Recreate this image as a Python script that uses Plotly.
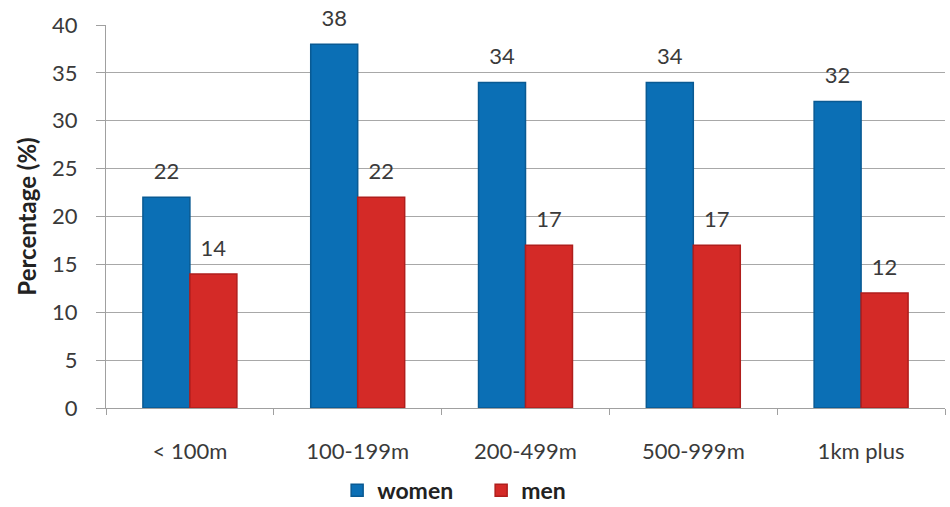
import plotly.graph_objects as go

categories = ["< 100m", "100-199m", "200-499m", "500-999m", "1km plus"]
women = [22, 38, 34, 34, 32]
men = [14, 22, 17, 17, 12]
y_ticks = [0, 5, 10, 15, 20, 25, 30, 35, 40]

FONT = "Lato, 'Open Sans', sans-serif"
TXT = "#3a3a3a"
GAP = 0.44

fig = go.Figure()
for name, vals, col, edge in [("women", women, "#0b6fb5", "#095a93"),
                              ("men", men, "#d42a27", "#b01e1c")]:
    fig.add_trace(go.Bar(
        name=name, x=categories, y=vals, offsetgroup=name,
        marker=dict(color=col, line=dict(color=edge, width=1.5)),
    ))
for name, vals in [("women", women), ("men", men)]:
    fig.add_trace(go.Scatter(
        x=categories, y=vals, offsetgroup=name, mode="markers+text",
        text=[str(v) for v in vals], textposition="top center",
        marker=dict(size=19, color="rgba(0,0,0,0)"),
        textfont=dict(size=22, color=TXT, family=FONT),
        showlegend=False, hoverinfo="skip", cliponaxis=False,
    ))

fig.update_layout(
    width=950, height=507,
    margin=dict(l=106, r=5, t=25, b=99, autoexpand=False),
    paper_bgcolor="white", plot_bgcolor="white",
    barmode="group", bargap=GAP, bargroupgap=0,
    scattermode="group", scattergap=GAP,
    font=dict(family=FONT, color=TXT, size=22),
    showlegend=True,
    legend=dict(orientation="h", x=0.2755, xanchor="left", y=-0.215, yanchor="middle",
                font=dict(size=23, color="#222222", family=FONT, weight="bold"),
                itemwidth=30, entrywidth=99, entrywidthmode="pixels",
                traceorder="normal"),
)
fig.update_yaxes(
    range=[0, 40], tickvals=y_ticks, showgrid=True, gridcolor="#a8a8a8", gridwidth=1,
    showline=True, linecolor="#a0a0a0", linewidth=1,
    ticks="outside", ticklen=9, tickcolor="#a0a0a0",
    tickfont=dict(size=22, color=TXT, family=FONT), ticklabelstandoff=14,
    title=dict(text="Percentage (%)", font=dict(size=24, color="#222222", family=FONT, weight="bold"), standoff=8),
    zeroline=False, fixedrange=True, automargin=False,
)
fig.update_xaxes(
    showline=True, linecolor="#a0a0a0", linewidth=1,
    ticks="outside", ticklen=6, tickcolor="#a0a0a0", tickson="boundaries",
    tickfont=dict(size=22, color=TXT, family=FONT), ticklabelstandoff=24,
    showgrid=False, automargin=False,
)

fig.write_html("out.html")
